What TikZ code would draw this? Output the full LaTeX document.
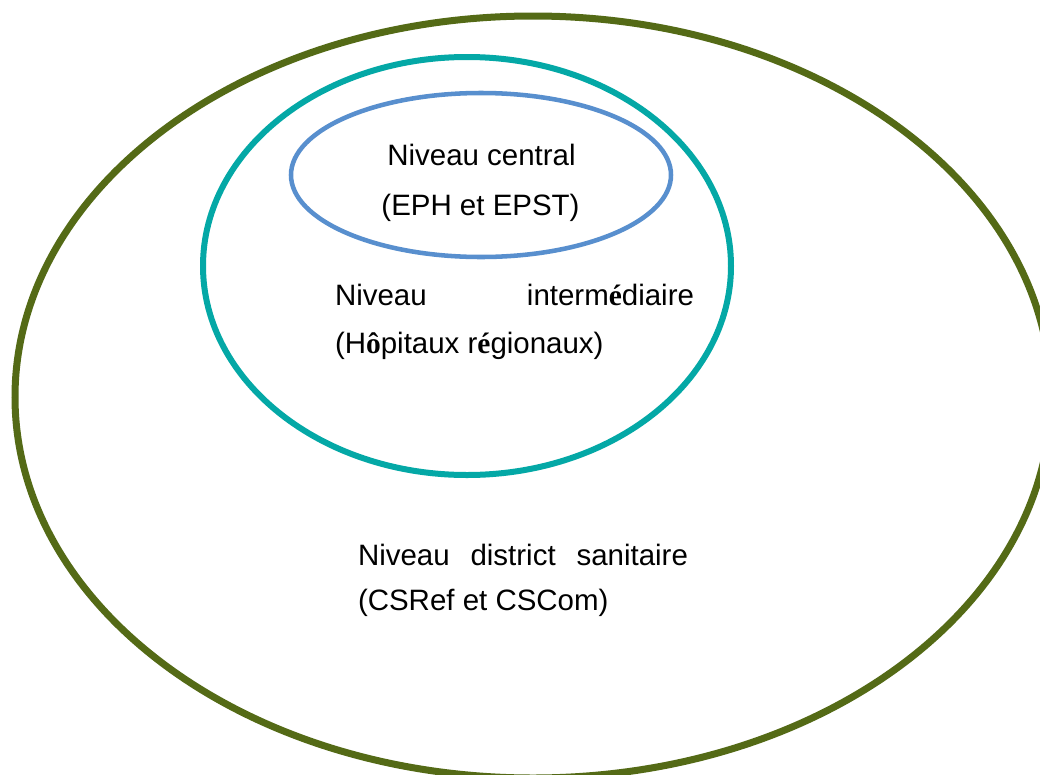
\documentclass[tikz,border=0pt]{standalone}
\usepackage{fontspec}
\setmainfont{Liberation Sans}
\newfontfamily\accfont{Liberation Serif}
\definecolor{olivering}{RGB}{84,106,22}
\definecolor{tealring}{RGB}{4,168,166}
\definecolor{bluering}{RGB}{88,143,206}
\newcommand{\acc}[1]{{\accfont\bfseries #1}}
\begin{document}
\begin{tikzpicture}[x=0.75pt,y=0.75pt,
  lbl/.style={inner sep=0pt,outer sep=0pt,font=\fontsize{22.1}{26}\selectfont}]
\clip (0,0) rectangle (1040,-775);
\fill[white] (0,0) rectangle (1040,-775);
\draw[olivering,line width=5.25pt] (533,-397) ellipse [x radius=518, y radius=381];
\draw[tealring,line width=4.5pt] (467,-266) ellipse [x radius=264, y radius=209];
\draw[bluering,line width=3.4pt] (481,-175) ellipse [x radius=190, y radius=82];
\node[lbl,anchor=base] (c1) at (481.5,-165) {Niveau central};
\node[lbl,anchor=base] (c2) at (480.5,-215) {(EPH et EPST)};
\node[lbl,anchor=base west] (i1) at (335,-305) {\hbox to 269.25pt{Niveau\hfill interm\acc{é}diaire}};
\node[lbl,anchor=base west] (i2) at (335,-353) {(H\acc{ô}pitaux r\acc{é}gionaux)};
\node[lbl,anchor=base west] (d1) at (358,-565) {\hbox to 247.5pt{Niveau\hfill district\hfill sanitaire}};
\node[lbl,anchor=base west] (d2) at (358,-610) {(CSRef et CSCom)};
\end{tikzpicture}
\end{document}
